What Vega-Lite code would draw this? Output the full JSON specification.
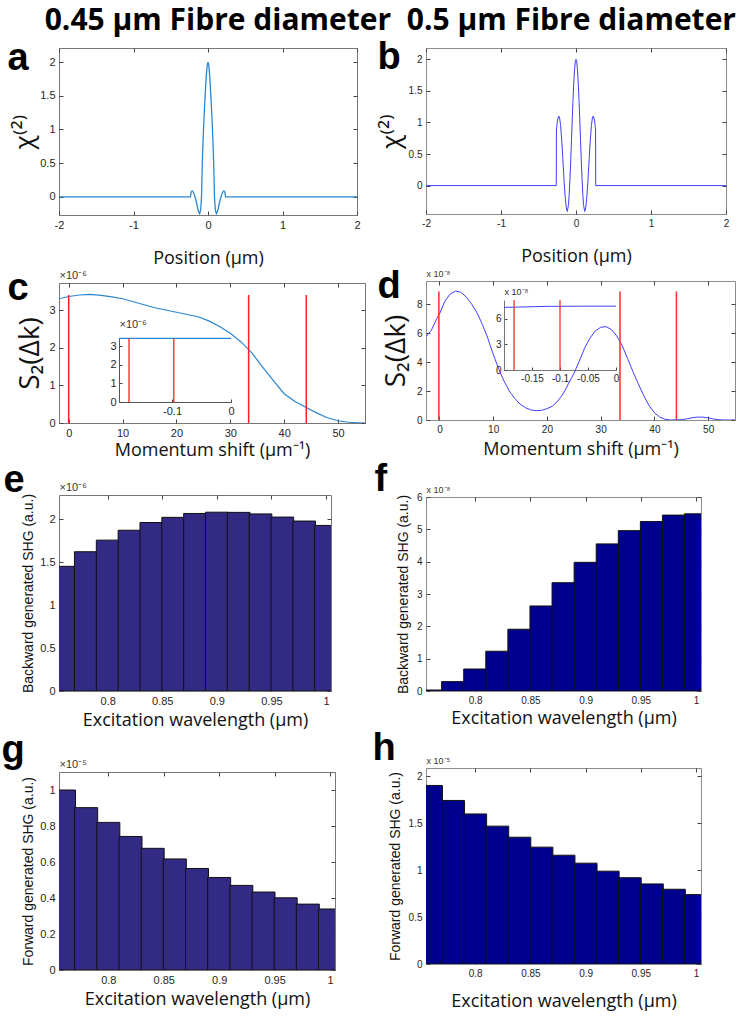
{
  "$schema": "https://vega.github.io/schema/vega-lite/v6.json",
  "background": "white",
  "padding": {"left": 0, "right": 5, "top": 5, "bottom": 2},
  "title": {"text": "0.45 μm Fibre diameter\u00a0\u00a00.5 μm Fibre diameter", "font": "Open Sans", "fontSize": 30, "fontWeight": "bold", "color": "#000000", "anchor": "end", "frame": "bounds", "offset": 2},
  "spacing": 5,
  "config": {
    "view": {"stroke": "#777777", "strokeWidth": 1},
    "axis": {
      "grid": false,
      "domain": false,
      "labelFlush": false,
      "labelFont": "Liberation Sans",
      "labelFontSize": 11,
      "labelColor": "#262626",
      "tickColor": "#444444",
      "tickSize": -4,
      "labelPadding": 8,
      "titleFont": "Open Sans",
      "titleFontWeight": "normal",
      "titleFontSize": 18,
      "titleColor": "#111111",
      "titlePadding": 5
    }
  },
  "datasets": {
    "chi045": [
      {"pos": -2, "chi": 0}, {"pos": -0.236, "chi": 0}, {"pos": -0.228, "chi": 0.06}, {"pos": -0.218, "chi": 0.085},
      {"pos": -0.207, "chi": 0.085}, {"pos": -0.196, "chi": 0.065}, {"pos": -0.184, "chi": 0.03}, {"pos": -0.17, "chi": -0.02},
      {"pos": -0.155, "chi": -0.08}, {"pos": -0.14, "chi": -0.16}, {"pos": -0.125, "chi": -0.23}, {"pos": -0.112, "chi": -0.25},
      {"pos": -0.1, "chi": -0.2}, {"pos": -0.092, "chi": -0.1}, {"pos": -0.087, "chi": 0}, {"pos": -0.08, "chi": 0.33},
      {"pos": -0.072, "chi": 0.65}, {"pos": -0.06, "chi": 1.0}, {"pos": -0.048, "chi": 1.3}, {"pos": -0.036, "chi": 1.55},
      {"pos": -0.024, "chi": 1.78}, {"pos": -0.012, "chi": 1.94}, {"pos": 0, "chi": 2.0},
      {"pos": 0.012, "chi": 1.94}, {"pos": 0.024, "chi": 1.78}, {"pos": 0.036, "chi": 1.55}, {"pos": 0.048, "chi": 1.3},
      {"pos": 0.06, "chi": 1.0}, {"pos": 0.072, "chi": 0.65}, {"pos": 0.08, "chi": 0.33}, {"pos": 0.087, "chi": 0},
      {"pos": 0.092, "chi": -0.1}, {"pos": 0.1, "chi": -0.2}, {"pos": 0.112, "chi": -0.25}, {"pos": 0.125, "chi": -0.23},
      {"pos": 0.14, "chi": -0.16}, {"pos": 0.155, "chi": -0.08}, {"pos": 0.17, "chi": -0.02}, {"pos": 0.184, "chi": 0.03},
      {"pos": 0.196, "chi": 0.065}, {"pos": 0.207, "chi": 0.085}, {"pos": 0.218, "chi": 0.085}, {"pos": 0.228, "chi": 0.06},
      {"pos": 0.236, "chi": 0}, {"pos": 2, "chi": 0}
    ],
    "chi050": [
      {"pos": -2, "chi": 0}, {"pos": -0.263, "chi": 0}, {"pos": -0.261, "chi": 0.88}, {"pos": -0.25, "chi": 1.0},
      {"pos": -0.24, "chi": 1.07}, {"pos": -0.228, "chi": 1.1}, {"pos": -0.218, "chi": 1.07}, {"pos": -0.205, "chi": 0.95},
      {"pos": -0.19, "chi": 0.71}, {"pos": -0.175, "chi": 0.41}, {"pos": -0.16, "chi": 0.095}, {"pos": -0.145, "chi": -0.17},
      {"pos": -0.13, "chi": -0.35}, {"pos": -0.116, "chi": -0.41}, {"pos": -0.1, "chi": -0.3}, {"pos": -0.09, "chi": -0.12},
      {"pos": -0.08, "chi": 0.12}, {"pos": -0.07, "chi": 0.41}, {"pos": -0.06, "chi": 0.73}, {"pos": -0.05, "chi": 1.05},
      {"pos": -0.04, "chi": 1.36}, {"pos": -0.03, "chi": 1.62}, {"pos": -0.02, "chi": 1.83}, {"pos": -0.01, "chi": 1.96},
      {"pos": 0, "chi": 2.0},
      {"pos": 0.01, "chi": 1.96}, {"pos": 0.02, "chi": 1.83}, {"pos": 0.03, "chi": 1.62}, {"pos": 0.04, "chi": 1.36},
      {"pos": 0.05, "chi": 1.05}, {"pos": 0.06, "chi": 0.73}, {"pos": 0.07, "chi": 0.41}, {"pos": 0.08, "chi": 0.12},
      {"pos": 0.09, "chi": -0.12}, {"pos": 0.1, "chi": -0.3}, {"pos": 0.116, "chi": -0.41}, {"pos": 0.13, "chi": -0.35},
      {"pos": 0.145, "chi": -0.17}, {"pos": 0.16, "chi": 0.095}, {"pos": 0.175, "chi": 0.41}, {"pos": 0.19, "chi": 0.71},
      {"pos": 0.205, "chi": 0.95}, {"pos": 0.218, "chi": 1.07}, {"pos": 0.228, "chi": 1.1}, {"pos": 0.24, "chi": 1.07},
      {"pos": 0.25, "chi": 1.0}, {"pos": 0.261, "chi": 0.88}, {"pos": 0.263, "chi": 0}, {"pos": 2, "chi": 0}
    ],
    "s045": [
      {"dk": -1.8, "s2": 3.31}, {"dk": 0, "s2": 3.37}, {"dk": 2, "s2": 3.41}, {"dk": 4, "s2": 3.425}, {"dk": 6, "s2": 3.4},
      {"dk": 8, "s2": 3.36}, {"dk": 10, "s2": 3.31}, {"dk": 12, "s2": 3.23}, {"dk": 14, "s2": 3.15}, {"dk": 16, "s2": 3.07},
      {"dk": 18, "s2": 3.01}, {"dk": 20, "s2": 2.95}, {"dk": 22, "s2": 2.89}, {"dk": 24, "s2": 2.83}, {"dk": 26, "s2": 2.72},
      {"dk": 28, "s2": 2.57}, {"dk": 30, "s2": 2.39}, {"dk": 32, "s2": 2.16}, {"dk": 34, "s2": 1.87}, {"dk": 36, "s2": 1.49},
      {"dk": 38, "s2": 1.13}, {"dk": 40, "s2": 0.78}, {"dk": 42, "s2": 0.57}, {"dk": 44, "s2": 0.42}, {"dk": 46, "s2": 0.27},
      {"dk": 48, "s2": 0.14}, {"dk": 50, "s2": 0.06}, {"dk": 52, "s2": 0.02}, {"dk": 55, "s2": 0.0}
    ],
    "s050": [
      {"dk": -2.5, "s2": 5.75}, {"dk": -1.5, "s2": 6.2}, {"dk": -0.5, "s2": 7.0}, {"dk": 0, "s2": 7.31}, {"dk": 1, "s2": 8.2},
      {"dk": 2, "s2": 8.7}, {"dk": 3, "s2": 8.9}, {"dk": 4, "s2": 8.82}, {"dk": 5, "s2": 8.5}, {"dk": 6, "s2": 8.0},
      {"dk": 7, "s2": 7.4}, {"dk": 8, "s2": 6.6}, {"dk": 9, "s2": 5.65}, {"dk": 10, "s2": 4.55}, {"dk": 11, "s2": 3.55},
      {"dk": 12, "s2": 2.7}, {"dk": 13, "s2": 2.0}, {"dk": 14, "s2": 1.5}, {"dk": 15, "s2": 1.1}, {"dk": 16, "s2": 0.85},
      {"dk": 17, "s2": 0.7}, {"dk": 18, "s2": 0.64}, {"dk": 19, "s2": 0.67}, {"dk": 20, "s2": 0.78}, {"dk": 21, "s2": 0.95},
      {"dk": 22, "s2": 1.3}, {"dk": 23, "s2": 1.8}, {"dk": 24, "s2": 2.5}, {"dk": 25, "s2": 3.2}, {"dk": 26, "s2": 4.05},
      {"dk": 27, "s2": 4.95}, {"dk": 28, "s2": 5.65}, {"dk": 29, "s2": 6.15}, {"dk": 30, "s2": 6.4}, {"dk": 31, "s2": 6.45},
      {"dk": 32, "s2": 6.25}, {"dk": 33, "s2": 5.8}, {"dk": 34, "s2": 5.15}, {"dk": 35, "s2": 4.25}, {"dk": 36, "s2": 3.35},
      {"dk": 37, "s2": 2.5}, {"dk": 38, "s2": 1.7}, {"dk": 39, "s2": 1.0}, {"dk": 40, "s2": 0.5}, {"dk": 41, "s2": 0.2},
      {"dk": 42, "s2": 0.05}, {"dk": 43, "s2": 0}, {"dk": 45, "s2": 0.02}, {"dk": 46, "s2": 0.08}, {"dk": 47, "s2": 0.15},
      {"dk": 48, "s2": 0.2}, {"dk": 49, "s2": 0.2}, {"dk": 50, "s2": 0.15}, {"dk": 51, "s2": 0.07}, {"dk": 52, "s2": 0.02},
      {"dk": 53, "s2": 0}, {"dk": 55, "s2": 0}
    ],
    "red045": [{"dk": 0, "top": 3.41}, {"dk": 33.4, "top": 3.41}, {"dk": 44.1, "top": 3.41}],
    "red050": [{"dk": -0.1, "top": 8.88}, {"dk": 33.6, "top": 8.88}, {"dk": 44.1, "top": 8.88}],
    "ins045": [{"dk": -0.19, "s2": 3.43}, {"dk": 0, "s2": 3.43}],
    "ins050": [{"dk": -0.2, "s2": 7.3}, {"dk": -0.16, "s2": 7.36}, {"dk": -0.12, "s2": 7.42}, {"dk": -0.06, "s2": 7.44}, {"dk": 0, "s2": 7.44}],
    "insred045": [{"dk": -0.173, "top": 3.43}, {"dk": -0.097, "top": 3.43}],
    "insred050": [{"dk": -0.182, "top": 8.16}, {"dk": -0.1, "top": 8.16}],
    "bwd045": [
      {"wl": 0.76, "shg": 1.45}, {"wl": 0.78, "shg": 1.62}, {"wl": 0.8, "shg": 1.755}, {"wl": 0.82, "shg": 1.87},
      {"wl": 0.84, "shg": 1.96}, {"wl": 0.86, "shg": 2.02}, {"wl": 0.88, "shg": 2.065}, {"wl": 0.9, "shg": 2.08},
      {"wl": 0.92, "shg": 2.078}, {"wl": 0.94, "shg": 2.06}, {"wl": 0.96, "shg": 2.023}, {"wl": 0.98, "shg": 1.977},
      {"wl": 1.0, "shg": 1.926}
    ],
    "bwd050": [
      {"wl": 0.76, "shg": 0.03}, {"wl": 0.78, "shg": 0.29}, {"wl": 0.8, "shg": 0.68}, {"wl": 0.82, "shg": 1.23},
      {"wl": 0.84, "shg": 1.91}, {"wl": 0.86, "shg": 2.63}, {"wl": 0.88, "shg": 3.35}, {"wl": 0.9, "shg": 3.98},
      {"wl": 0.92, "shg": 4.55}, {"wl": 0.94, "shg": 4.96}, {"wl": 0.96, "shg": 5.24}, {"wl": 0.98, "shg": 5.44},
      {"wl": 1.0, "shg": 5.48}
    ],
    "fwd045": [
      {"wl": 0.76, "shg": 1.0}, {"wl": 0.78, "shg": 0.902}, {"wl": 0.8, "shg": 0.82}, {"wl": 0.82, "shg": 0.742},
      {"wl": 0.84, "shg": 0.676}, {"wl": 0.86, "shg": 0.617}, {"wl": 0.88, "shg": 0.564}, {"wl": 0.9, "shg": 0.514},
      {"wl": 0.92, "shg": 0.47}, {"wl": 0.94, "shg": 0.433}, {"wl": 0.96, "shg": 0.401}, {"wl": 0.98, "shg": 0.366},
      {"wl": 1.0, "shg": 0.339}
    ],
    "fwd050": [
      {"wl": 0.76, "shg": 1.904}, {"wl": 0.78, "shg": 1.744}, {"wl": 0.8, "shg": 1.6}, {"wl": 0.82, "shg": 1.47},
      {"wl": 0.84, "shg": 1.352}, {"wl": 0.86, "shg": 1.246}, {"wl": 0.88, "shg": 1.16}, {"wl": 0.9, "shg": 1.075},
      {"wl": 0.92, "shg": 0.99}, {"wl": 0.94, "shg": 0.92}, {"wl": 0.96, "shg": 0.854}, {"wl": 0.98, "shg": 0.797},
      {"wl": 1.0, "shg": 0.74}
    ]
  },
  "hconcat": [
    {
      "spacing": 0,
      "vconcat": [
        {
          "width": 298, "height": 167,
          "data": {"name": "chi045"},
          "layer": [
            {
              "mark": {"type": "line", "color": "#2a86d1", "strokeWidth": 1.3, "clip": true},
              "encoding": {
                "x": {"field": "pos", "type": "quantitative", "scale": {"domain": [-2, 2], "nice": false, "zero": false},
                      "axis": {"values": [-2, -1, 0, 1, 2], "title": "Position (μm)", "titlePadding": 19, "labelExpr": "replace(datum.label, '−', '-')"}},
                "y": {"field": "chi", "type": "quantitative", "scale": {"domain": [-0.27, 2.21], "nice": false, "zero": false},
                      "axis": {"values": [0, 0.5, 1, 1.5, 2], "format": "~g", "title": "χ⁽²⁾", "titleFontSize": 26, "titlePadding": 2}}
              }
            },
            {
              "mark": {"type": "line", "opacity": 0},
              "encoding": {
                "x": {"field": "pos", "type": "quantitative", "axis": {"orient": "top", "labels": false, "title": null, "values": [-2, -1, 0, 1, 2]}},
                "y": {"field": "chi", "type": "quantitative", "axis": {"orient": "right", "labels": false, "values": [0, 0.5, 1, 1.5, 2],
                      "title": "a", "titleFont": "Liberation Sans", "titleFontWeight": "bold", "titleFontSize": 38, "titleColor": "#000000", "titleAngle": 0, "titleAlign": "left", "titleBaseline": "alphabetic", "titleX": -350, "titleY": 21}}
              }
            }
          ],
          "resolve": {"axis": {"x": "independent", "y": "independent"}}
        },
        {
          "width": 306, "height": 140,
          "layer": [
            {
              "data": {"name": "s045"},
              "mark": {"type": "line", "color": "#2a86d1", "strokeWidth": 1.2, "clip": true},
              "encoding": {
                "x": {"field": "dk", "type": "quantitative", "scale": {"domain": [-1.8, 55], "nice": false, "zero": false},
                      "axis": {"values": [0, 10, 20, 30, 40, 50], "title": "Momentum shift (μm⁻¹)", "titlePadding": 3}},
                "y": {"field": "s2", "type": "quantitative", "scale": {"domain": [0, 3.73], "nice": false},
                      "axis": {"values": [0, 1, 2, 3], "title": "S₂(Δk)", "titleFontSize": 28, "titlePadding": 4}}
              }
            },
            {
              "data": {"name": "red045"},
              "mark": {"type": "rule", "color": "#ff1f1f", "strokeWidth": 1.5},
              "encoding": {
                "x": {"field": "dk", "type": "quantitative", "scale": {"domain": [-1.8, 55], "nice": false, "zero": false},
                      "axis": {"orient": "top", "labels": false, "values": [0, 10, 20, 30, 40, 50], "title": "×10⁻⁶", "titleFont": "Liberation Sans", "titleFontSize": 11, "titleColor": "#333333", "titleAnchor": "start", "titleAlign": "left", "titlePadding": 2}},
                "y": {"field": "top", "type": "quantitative", "scale": {"domain": [0, 3.73], "nice": false},
                      "axis": {"orient": "right", "labels": false, "values": [0, 1, 2, 3],
                               "title": "c", "titleFont": "Liberation Sans", "titleFontWeight": "bold", "titleFontSize": 38, "titleColor": "#000000", "titleAngle": 0, "titleAlign": "left", "titleBaseline": "alphabetic", "titleX": -358, "titleY": 16}},
                "y2": {"datum": 0}
              }
            },
            {
              "data": {"name": "ins045"},
              "mark": {"type": "line", "color": "#2a86d1", "strokeWidth": 1.2},
              "encoding": {
                "x": {"field": "dk", "type": "quantitative", "scale": {"domain": [-0.19, 0], "nice": false, "zero": false, "range": [60, 172]},
                      "axis": {"orient": "bottom", "offset": -21, "values": [-0.1, 0], "format": "~g", "title": null, "domain": true, "domainColor": "#555555", "tickSize": -3, "labelPadding": 6, "labelFontSize": 11, "labelExpr": "replace(datum.label, '−', '-')"}},
                "y": {"field": "s2", "type": "quantitative", "scale": {"domain": [0, 3.45], "nice": false, "range": [119, 55]},
                      "axis": {"orient": "left", "offset": -60, "values": [0, 1, 2, 3], "domain": true, "domainColor": "#555555", "tickSize": -3, "labelPadding": 6, "labelFontSize": 11,
                               "title": "×10⁻⁶", "titleFont": "Liberation Sans", "titleFontSize": 11, "titleColor": "#333333", "titleAngle": 0, "titleAlign": "left", "titleBaseline": "bottom", "titleX": 0, "titleY": 46}}
              }
            },
            {
              "data": {"name": "insred045"},
              "mark": {"type": "rule", "color": "#ff1f1f", "strokeWidth": 1.3},
              "encoding": {
                "x": {"field": "dk", "type": "quantitative", "scale": {"domain": [-0.19, 0], "nice": false, "zero": false, "range": [60, 172]}, "axis": null},
                "y": {"field": "top", "type": "quantitative", "scale": {"domain": [0, 3.45], "nice": false, "range": [119, 55]}, "axis": null},
                "y2": {"datum": 0}
              }
            }
          ],
          "resolve": {"scale": {"x": "independent", "y": "independent"}, "axis": {"x": "independent", "y": "independent"}}
        },
        {
          "width": 272, "height": 196,
          "data": {"name": "bwd045"},
          "layer": [
            {
              "mark": {"type": "bar", "width": 22.7, "color": "#322a84", "stroke": "#111111", "strokeWidth": 1, "clip": true},
              "encoding": {
                "x": {"field": "wl", "type": "quantitative", "scale": {"domain": [0.76, 1.0], "nice": false, "zero": false},
                      "axis": {"values": [0.8, 0.85, 0.9, 0.95, 1], "format": "~g", "title": "Excitation wavelength (μm)"}},
                "y": {"field": "shg", "type": "quantitative", "scale": {"domain": [0, 2.28], "nice": false},
                      "axis": {"values": [0, 0.5, 1, 1.5, 2], "format": "~g", "title": "Backward generated SHG (a.u.)", "titleFont": "Liberation Sans", "titleFontSize": 14, "titlePadding": 4}}
              }
            },
            {
              "mark": {"type": "point", "opacity": 0},
              "encoding": {
                "x": {"field": "wl", "type": "quantitative", "axis": {"orient": "top", "labels": false, "values": [0.8, 0.85, 0.9, 0.95, 1], "title": "×10⁻⁶", "titleFont": "Liberation Sans", "titleFontSize": 11, "titleColor": "#333333", "titleAnchor": "start", "titleAlign": "left", "titlePadding": 2}},
                "y": {"field": "shg", "type": "quantitative", "axis": {"orient": "right", "labels": false, "values": [0, 0.5, 1, 1.5, 2],
                      "title": "e", "titleFont": "Liberation Sans", "titleFontWeight": "bold", "titleFontSize": 38, "titleColor": "#000000", "titleAngle": 0, "titleAlign": "left", "titleBaseline": "alphabetic", "titleX": -328, "titleY": -4}}
              }
            }
          ],
          "resolve": {"axis": {"x": "independent", "y": "independent"}}
        },
        {
          "width": 276, "height": 198,
          "data": {"name": "fwd045"},
          "layer": [
            {
              "mark": {"type": "bar", "width": 23, "color": "#322a84", "stroke": "#111111", "strokeWidth": 1, "clip": true},
              "encoding": {
                "x": {"field": "wl", "type": "quantitative", "scale": {"domain": [0.76, 1.0], "nice": false, "zero": false},
                      "axis": {"values": [0.8, 0.85, 0.9, 0.95, 1], "format": "~g", "title": "Excitation wavelength (μm)"}},
                "y": {"field": "shg", "type": "quantitative", "scale": {"domain": [0, 1.1], "nice": false},
                      "axis": {"values": [0, 0.2, 0.4, 0.6, 0.8, 1], "format": "~g", "title": "Forward generated SHG (a.u.)", "titleFont": "Liberation Sans", "titleFontSize": 14, "titlePadding": 4}}
              }
            },
            {
              "mark": {"type": "point", "opacity": 0},
              "encoding": {
                "x": {"field": "wl", "type": "quantitative", "axis": {"orient": "top", "labels": false, "values": [0.8, 0.85, 0.9, 0.95, 1], "title": "×10⁻⁵", "titleFont": "Liberation Sans", "titleFontSize": 11, "titleColor": "#333333", "titleAnchor": "start", "titleAlign": "left", "titlePadding": 2}},
                "y": {"field": "shg", "type": "quantitative", "axis": {"orient": "right", "labels": false, "values": [0, 0.2, 0.4, 0.6, 0.8, 1],
                      "title": "g", "titleFont": "Liberation Sans", "titleFontWeight": "bold", "titleFontSize": 38, "titleColor": "#000000", "titleAngle": 0, "titleAlign": "left", "titleBaseline": "alphabetic", "titleX": -334, "titleY": -11}}
              }
            }
          ],
          "resolve": {"axis": {"x": "independent", "y": "independent"}}
        }
      ]
    },
    {
      "spacing": 0,
      "vconcat": [
        {
          "width": 300, "height": 166,
          "view": {"stroke": "#8c8c8c"},
          "data": {"name": "chi050"},
          "layer": [
            {
              "mark": {"type": "line", "color": "#3f3fff", "strokeWidth": 1, "clip": true},
              "encoding": {
                "x": {"field": "pos", "type": "quantitative", "scale": {"domain": [-2, 2], "nice": false, "zero": false},
                      "axis": {"values": [-2, -1, 0, 1, 2], "title": "Position (μm)", "titlePadding": 19, "labelFontSize": 10, "labelExpr": "replace(datum.label, '−', '-')"}},
                "y": {"field": "chi", "type": "quantitative", "scale": {"domain": [-0.45, 2.18], "nice": false, "zero": false},
                      "axis": {"values": [0, 0.5, 1, 1.5, 2], "format": "~g", "labelFontSize": 10, "title": "χ⁽²⁾", "titleFontSize": 26, "titlePadding": 4}}
              }
            },
            {
              "mark": {"type": "line", "opacity": 0},
              "encoding": {
                "x": {"field": "pos", "type": "quantitative", "axis": {"orient": "top", "labels": false, "title": null, "values": [-2, -1, 0, 1, 2]}},
                "y": {"field": "chi", "type": "quantitative", "axis": {"orient": "right", "labels": false, "values": [0, 0.5, 1, 1.5, 2],
                      "title": "b", "titleFont": "Liberation Sans", "titleFontWeight": "bold", "titleFontSize": 38, "titleColor": "#000000", "titleAngle": 0, "titleAlign": "left", "titleBaseline": "alphabetic", "titleX": -349, "titleY": 20}}
              }
            }
          ],
          "resolve": {"axis": {"x": "independent", "y": "independent"}}
        },
        {
          "width": 309, "height": 139,
          "view": {"stroke": "#8c8c8c"},
          "layer": [
            {
              "data": {"name": "s050"},
              "mark": {"type": "line", "color": "#3f3fff", "strokeWidth": 1, "clip": true},
              "encoding": {
                "x": {"field": "dk", "type": "quantitative", "scale": {"domain": [-2.5, 55], "nice": false, "zero": false},
                      "axis": {"values": [0, 10, 20, 30, 40, 50], "labelFontSize": 10, "title": "Momentum shift (μm⁻¹)", "titlePadding": 6}},
                "y": {"field": "s2", "type": "quantitative", "scale": {"domain": [0, 9.6], "nice": false},
                      "axis": {"values": [0, 2, 4, 6, 8], "labelFontSize": 10, "title": "S₂(Δk)", "titleFontSize": 28, "titlePadding": 6}}
              }
            },
            {
              "data": {"name": "red050"},
              "mark": {"type": "rule", "color": "#ff2a2a", "strokeWidth": 1.5},
              "encoding": {
                "x": {"field": "dk", "type": "quantitative", "scale": {"domain": [-2.5, 55], "nice": false, "zero": false},
                      "axis": {"orient": "top", "labels": false, "values": [0, 10, 20, 30, 40, 50], "title": "x 10⁻⁸", "titleFont": "Liberation Sans", "titleFontSize": 9, "titleColor": "#333333", "titleAnchor": "start", "titleAlign": "left", "titlePadding": 2}},
                "y": {"field": "top", "type": "quantitative", "scale": {"domain": [0, 9.6], "nice": false},
                      "axis": {"orient": "right", "labels": false, "values": [0, 2, 4, 6, 8],
                               "title": "d", "titleFont": "Liberation Sans", "titleFontWeight": "bold", "titleFontSize": 38, "titleColor": "#000000", "titleAngle": 0, "titleAlign": "left", "titleBaseline": "alphabetic", "titleX": -358, "titleY": 16}},
                "y2": {"datum": 0}
              }
            },
            {
              "data": {"name": "ins050"},
              "mark": {"type": "line", "color": "#3f3fff", "strokeWidth": 1},
              "encoding": {
                "x": {"field": "dk", "type": "quantitative", "scale": {"domain": [-0.2, 0], "nice": false, "zero": false, "range": [78, 190]},
                      "axis": {"orient": "bottom", "offset": -50, "values": [-0.15, -0.1, -0.05, 0], "format": "~g", "title": null, "domain": true, "domainColor": "#777777", "tickSize": -3, "labelPadding": 6, "labelFontSize": 10, "labelExpr": "replace(datum.label, '−', '-')"}},
                "y": {"field": "s2", "type": "quantitative", "scale": {"domain": [0, 8.16], "nice": false, "range": [89, 19]},
                      "axis": {"orient": "left", "offset": -78, "values": [0, 3, 6], "domain": true, "domainColor": "#777777", "tickSize": -3, "labelPadding": 6, "labelFontSize": 10,
                               "title": "x 10⁻⁸", "titleFont": "Liberation Sans", "titleFontSize": 9, "titleColor": "#333333", "titleAngle": 0, "titleAlign": "left", "titleBaseline": "bottom", "titleX": 0, "titleY": 15}}
              }
            },
            {
              "data": {"name": "insred050"},
              "mark": {"type": "rule", "color": "#ff2a2a", "strokeWidth": 1.3},
              "encoding": {
                "x": {"field": "dk", "type": "quantitative", "scale": {"domain": [-0.2, 0], "nice": false, "zero": false, "range": [78, 190]}, "axis": null},
                "y": {"field": "top", "type": "quantitative", "scale": {"domain": [0, 8.16], "nice": false, "range": [89, 19]}, "axis": null},
                "y2": {"datum": 0}
              }
            }
          ],
          "resolve": {"scale": {"x": "independent", "y": "independent"}, "axis": {"x": "independent", "y": "independent"}}
        },
        {
          "width": 275, "height": 194,
          "view": {"stroke": "#8c8c8c"},
          "data": {"name": "bwd050"},
          "layer": [
            {
              "mark": {"type": "bar", "width": 22.9, "color": "#00008f", "stroke": "#111111", "strokeWidth": 1, "clip": true},
              "encoding": {
                "x": {"field": "wl", "type": "quantitative", "scale": {"domain": [0.76, 1.0], "nice": false, "zero": false},
                      "axis": {"values": [0.8, 0.85, 0.9, 0.95, 1], "format": "~g", "labelFontSize": 10, "title": "Excitation wavelength (μm)", "titlePadding": 4}},
                "y": {"field": "shg", "type": "quantitative", "scale": {"domain": [0, 6], "nice": false},
                      "axis": {"values": [0, 1, 2, 3, 4, 5, 6], "labelFontSize": 10, "title": "Backward generated SHG (a.u.)", "titleFont": "Liberation Sans", "titleFontSize": 14, "titlePadding": 6}}
              }
            },
            {
              "mark": {"type": "point", "opacity": 0},
              "encoding": {
                "x": {"field": "wl", "type": "quantitative", "axis": {"orient": "top", "labels": false, "values": [0.8, 0.85, 0.9, 0.95, 1], "title": "x 10⁻⁸", "titleFont": "Liberation Sans", "titleFontSize": 9, "titleColor": "#333333", "titleAnchor": "start", "titleAlign": "left", "titlePadding": 2}},
                "y": {"field": "shg", "type": "quantitative", "axis": {"orient": "right", "labels": false, "values": [0, 1, 2, 3, 4, 5, 6],
                      "title": "f", "titleFont": "Liberation Sans", "titleFontWeight": "bold", "titleFontSize": 38, "titleColor": "#000000", "titleAngle": 0, "titleAlign": "left", "titleBaseline": "alphabetic", "titleX": -327, "titleY": -7}}
              }
            }
          ],
          "resolve": {"axis": {"x": "independent", "y": "independent"}}
        },
        {
          "width": 275, "height": 196,
          "view": {"stroke": "#8c8c8c"},
          "data": {"name": "fwd050"},
          "layer": [
            {
              "mark": {"type": "bar", "width": 22.9, "color": "#00008f", "stroke": "#111111", "strokeWidth": 1, "clip": true},
              "encoding": {
                "x": {"field": "wl", "type": "quantitative", "scale": {"domain": [0.76, 1.0], "nice": false, "zero": false},
                      "axis": {"values": [0.8, 0.85, 0.9, 0.95, 1], "format": "~g", "labelFontSize": 10, "title": "Excitation wavelength (μm)", "titlePadding": 14}},
                "y": {"field": "shg", "type": "quantitative", "scale": {"domain": [0, 2.09], "nice": false},
                      "axis": {"values": [0, 0.5, 1, 1.5, 2], "format": "~g", "labelFontSize": 10, "title": "Forward generated SHG (a.u.)", "titleFont": "Liberation Sans", "titleFontSize": 14, "titlePadding": 6}}
              }
            },
            {
              "mark": {"type": "point", "opacity": 0},
              "encoding": {
                "x": {"field": "wl", "type": "quantitative", "axis": {"orient": "top", "labels": false, "values": [0.8, 0.85, 0.9, 0.95, 1], "title": "x 10⁻⁵", "titleFont": "Liberation Sans", "titleFontSize": 9, "titleColor": "#333333", "titleAnchor": "start", "titleAlign": "left", "titlePadding": 2}},
                "y": {"field": "shg", "type": "quantitative", "axis": {"orient": "right", "labels": false, "values": [0, 0.5, 1, 1.5, 2],
                      "title": "h", "titleFont": "Liberation Sans", "titleFontWeight": "bold", "titleFontSize": 38, "titleColor": "#000000", "titleAngle": 0, "titleAlign": "left", "titleBaseline": "alphabetic", "titleX": -329, "titleY": -9}}
              }
            }
          ],
          "resolve": {"axis": {"x": "independent", "y": "independent"}}
        }
      ]
    }
  ]
}
